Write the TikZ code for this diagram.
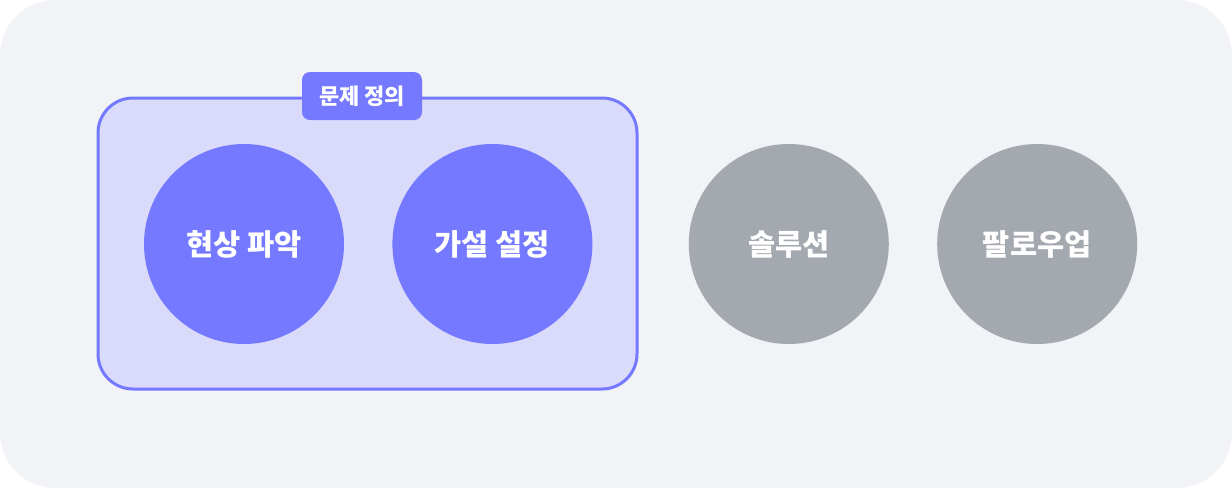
\documentclass[tikz,border=0pt]{standalone}
\usepackage{fontspec}
\newfontfamily\krfont{Noto Sans CJK KR}
\usetikzlibrary{positioning}
\definecolor{stageblue}{HTML}{7479FF}
\definecolor{stagegray}{HTML}{A4A9B0}
\definecolor{groupfill}{HTML}{DADBFA}
\definecolor{canvas}{HTML}{F2F3F7}

\begin{document}
\begin{tikzpicture}[
      x=1pt, y=1pt,
      node distance=48pt,
      stage/.style={circle, inner sep=0pt, minimum size=200pt, text=white,
                    font=\krfont\bfseries\fontsize{29.5}{33}\selectfont},
      active/.style={stage, fill=stageblue},
      later/.style={stage, fill=stagegray},
      group/.style={rectangle, rounded corners=35pt, draw=stageblue, line width=3pt,
                    fill=groupfill, minimum width=539pt, minimum height=291pt},
      tag/.style={rectangle, rounded corners=8pt, fill=stageblue, text=white,
                  minimum width=120pt, minimum height=48pt, inner sep=0pt,
                  font=\krfont\bfseries\fontsize{22}{25}\selectfont}
    ]
    \path[use as bounding box, fill=white] (0,0) rectangle (1232,-488);
    \fill[canvas, rounded corners=55pt] (0,0) rectangle (1232,-488);

    \node[group] (define) at (367.5,-243.5) {};
    \node[tag] (definetag) at (362,-96) {문제 정의};

    \node[active] (observe) at (244,-244) {현상 파악};
    \node[active, right=of observe] (hypo) {가설 설정};
    \node[later, right=96pt of hypo] (solution) {솔루션};
    \node[later, right=of solution] (followup) {팔로우업};
\end{tikzpicture}
\end{document}
